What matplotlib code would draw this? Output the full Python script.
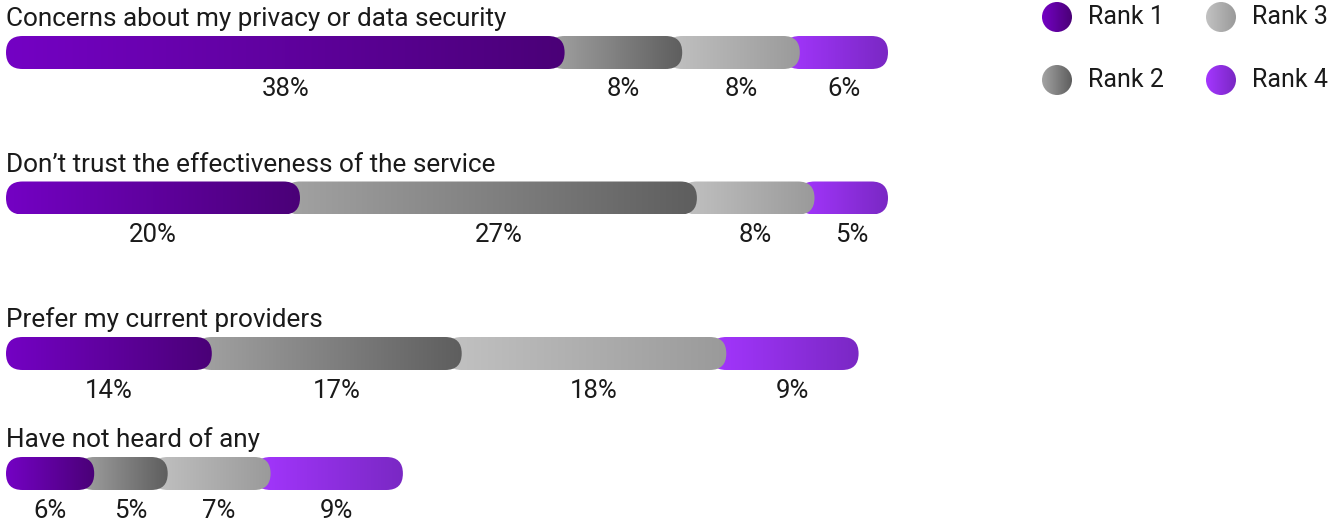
import matplotlib
matplotlib.use('Agg')
import matplotlib.pyplot as plt
import numpy as np
from matplotlib.patches import FancyBboxPatch, Circle
from matplotlib.colors import LinearSegmentedColormap

plt.rcParams['font.family'] = ['Roboto', 'DejaVu Sans']

# Chart data
categories = ['Concerns about my privacy or data security',
              'Don\u2019t trust the effectiveness of the service',
              'Prefer my current providers',
              'Have not heard of any']
rank1 = [38, 20, 14, 6]
rank2 = [8, 27, 17, 5]
rank3 = [8, 8, 18, 7]
rank4 = [6, 5, 9, 9]
series_names = ['Rank 1', 'Rank 2', 'Rank 3', 'Rank 4']

# gradient colours (left -> right) for each rank
grads = [('#7402c4', '#4a0077'),
         ('#a3a3a3', '#5e5e5e'),
         ('#c2c2c2', '#9a9a9a'),
         ('#a436ff', '#7a28c4')]

W, H = 1328, 521
px_per_pct = 14.7
x_left = 6
fig = plt.figure(figsize=(W / 100, H / 100), dpi=100)
ax = fig.add_axes([0, 0, 1, 1])
ax.set_xlim(-x_left / px_per_pct, (W - x_left) / px_per_pct)
ax.set_ylim(H, 0)
ax.axis('off')

bar_centers = [52.5, 198, 353.5, 473.5]
bar_h = 33
r = bar_h / 2 / px_per_pct  # corner radius in % units
aspect = px_per_pct

values = [rank1, rank2, rank3, rank4]


def gradient_fill(ax, patch, x0, x1, y0, y1, c0, c1):
    cmap = LinearSegmentedColormap.from_list('g', [c0, c1])
    img = ax.imshow(np.linspace(0, 1, 256).reshape(1, -1), cmap=cmap,
                    extent=(x0, x1, y1, y0), aspect='auto', zorder=patch.get_zorder(),
                    interpolation='bilinear')
    img.set_clip_path(patch)


for i, cat in enumerate(categories):
    yc = bar_centers[i]
    vals = [v[i] for v in values]
    cum = np.concatenate([[0], np.cumsum(vals)])
    for k in reversed(range(4)):
        start, end = cum[k], cum[k + 1]
        x0 = start - r if k > 0 else start
        patch = FancyBboxPatch((x0, yc - bar_h / 2), end - x0, bar_h,
                               boxstyle=f'round,pad=0,rounding_size={r}',
                               mutation_aspect=aspect, facecolor='none',
                               edgecolor='none', zorder=4 - k)
        ax.add_patch(patch)
        gradient_fill(ax, patch, x0, end, yc - bar_h / 2, yc + bar_h / 2,
                      grads[k][0], grads[k][1])
        ax.text((start + end) / 2, yc + 37, f'{vals[k]}%', ha='center',
                va='center', fontsize=18.5, color='#1a1a1a')
    ax.text(0, yc - bar_h / 2 - 10, cat, ha='left', va='baseline',
            fontsize=18.8, color='#1a1a1a')

ax.set_xlim(-x_left / px_per_pct, (W - x_left) / px_per_pct)
ax.set_ylim(H, 0)

# legend in pixel coordinates
lax = fig.add_axes([0, 0, 1, 1])
lax.set_xlim(0, W)
lax.set_ylim(H, 0)
lax.axis('off')
leg_pos = [(1057, 17), (1057, 80), (1221, 17), (1221, 80)]
for k, (lx, ly) in enumerate(leg_pos):
    c = Circle((lx, ly), 15, facecolor='none', edgecolor='none')
    lax.add_patch(c)
    cmap = LinearSegmentedColormap.from_list('g', grads[k])
    img = lax.imshow(np.linspace(0, 1, 64).reshape(1, -1), cmap=cmap,
                     extent=(lx - 15, lx + 15, ly + 15, ly - 15), aspect='auto')
    img.set_clip_path(c)
    lax.text(lx + 31, ly, series_names[k], ha='left', va='center',
             fontsize=18, color='#1a1a1a')
lax.set_xlim(0, W)
lax.set_ylim(H, 0)

fig.savefig('out.png', dpi=100)
